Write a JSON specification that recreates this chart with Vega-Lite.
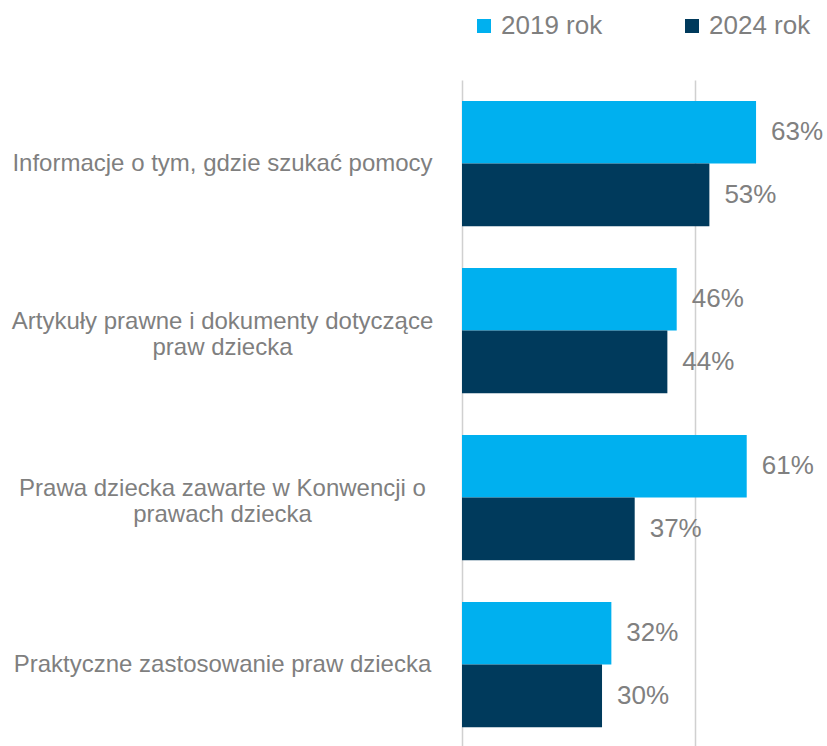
{
  "$schema": "https://vega.github.io/schema/vega-lite/v6.json",
  "width": 365,
  "height": 668,
  "autosize": "none",
  "padding": {"left": 462, "top": 80, "right": 0, "bottom": 0},
  "background": "white",
  "data": {
    "values": [
      {"category": "Informacje o tym, gdzie szukać pomocy", "year": "2019 rok", "value": 0.63},
      {"category": "Informacje o tym, gdzie szukać pomocy", "year": "2024 rok", "value": 0.53},
      {"category": "Artykuły prawne i dokumenty dotyczące|praw dziecka", "year": "2019 rok", "value": 0.46},
      {"category": "Artykuły prawne i dokumenty dotyczące|praw dziecka", "year": "2024 rok", "value": 0.44},
      {"category": "Prawa dziecka zawarte w Konwencji o|prawach dziecka", "year": "2019 rok", "value": 0.61},
      {"category": "Prawa dziecka zawarte w Konwencji o|prawach dziecka", "year": "2024 rok", "value": 0.37},
      {"category": "Praktyczne zastosowanie praw dziecka", "year": "2019 rok", "value": 0.32},
      {"category": "Praktyczne zastosowanie praw dziecka", "year": "2024 rok", "value": 0.30}
    ]
  },
  "encoding": {
    "y": {
      "field": "category",
      "type": "nominal",
      "sort": null,
      "scale": {"paddingInner": 0.25, "paddingOuter": 0.125},
      "axis": {
        "title": null,
        "domain": false,
        "ticks": false,
        "labelAlign": "center",
        "labelPadding": 240,
        "labelFont": "Liberation Sans",
        "labelFontSize": 24,
        "labelColor": "#7f7f7f",
        "labelLineHeight": 26,
        "labelLimit": 0,
        "labelOffset": {"condition": {"test": "indexof(datum.value, '|') >= 0", "value": -9}, "value": 0},
        "labelExpr": "split(datum.label, '|')"
      }
    },
    "yOffset": {
      "field": "year",
      "type": "nominal",
      "sort": ["2019 rok", "2024 rok"],
      "scale": {"paddingInner": 0, "paddingOuter": 0}
    },
    "x": {
      "field": "value",
      "type": "quantitative",
      "scale": {"domain": [0, 0.782], "nice": false},
      "axis": {
        "title": null,
        "labels": false,
        "ticks": false,
        "domain": false,
        "values": [0, 0.5],
        "grid": true,
        "gridColor": "#d0d0d0",
        "gridWidth": 1.5
      }
    }
  },
  "layer": [
    {
      "mark": {"type": "bar"},
      "encoding": {
        "color": {
          "field": "year",
          "type": "nominal",
          "scale": {"domain": ["2019 rok", "2024 rok"], "range": ["#00b0ef", "#003a5c"]},
          "legend": {
            "title": null,
            "orient": "none",
            "direction": "horizontal",
            "legendX": 9,
            "legendY": -67,
            "padding": 0,
            "symbolType": "square",
            "symbolSize": 196,
            "symbolStrokeWidth": 0,
            "labelFont": "Liberation Sans",
            "labelFontSize": 26,
            "labelColor": "#7f7f7f",
            "labelOffset": 4,
            "columnPadding": 76
          }
        }
      }
    },
    {
      "mark": {"type": "text", "align": "left", "baseline": "middle", "dx": 15, "font": "Liberation Sans", "fontSize": 26, "color": "#808080"},
      "encoding": {
        "text": {"field": "value", "type": "quantitative", "format": ".0%"}
      }
    }
  ],
  "config": {"view": {"stroke": null}}
}
